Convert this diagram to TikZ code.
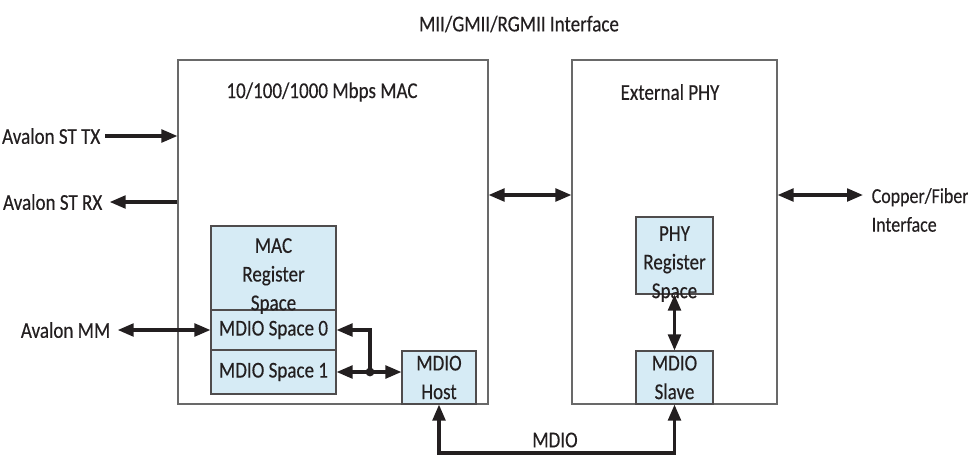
\documentclass[tikz,border=0pt]{standalone}
\usepackage{fontspec}
\setmainfont{Carlito}[FakeStretch=0.84, FakeBold=0.3]
\usepackage{tikz}
\usetikzlibrary{arrows.meta,positioning}
\definecolor{PaleBlue}{RGB}{214,235,245}
\definecolor{FrameGray}{RGB}{105,105,105}
\definecolor{InkBlack}{RGB}{35,31,32}

\begin{document}
\begin{tikzpicture}[x=0.75pt, y=-0.75pt,
  every node/.style={font=\fontsize{17}{21.5}\selectfont, text=InkBlack},
  outerbox/.style={draw=FrameGray, line width=0.8pt, inner sep=0pt},
  regbox/.style={draw=InkBlack!80, fill=PaleBlue, line width=0.8pt, inner sep=0pt, align=center},
  bus/.style={InkBlack, line width=2.4pt, -{Triangle[length=12pt,width=9.5pt]}},
  bibus/.style={InkBlack, line width=2.4pt, {Triangle[length=12pt,width=9.5pt]}-{Triangle[length=12pt,width=9.5pt]}}]
  \useasboundingbox (0,0) rectangle (968,455);

  \node[outerbox, minimum width=232.5pt, minimum height=258pt] (mac) at (333,232) {};
  \node[outerbox, minimum width=153.75pt, minimum height=258pt] (phy) at (674.5,232) {};
  \node (miilbl) at (519,24) {MII/GMII/RGMII Interface};
  \node (maclbl) at (322,92) {10/100/1000 Mbps MAC};
  \node (phylbl) at (670,92) {External PHY};

  \node[regbox, minimum width=93.75pt, minimum height=63pt] (macreg) at (273.5,268) {};
  \node[regbox, minimum width=93.75pt, minimum height=30pt] (sp0) at (273.5,330) {MDIO Space 0};
  \node[regbox, minimum width=93.75pt, minimum height=33pt] (sp1) at (273.5,372) {MDIO Space 1};
  \node[align=center] (macregtxt) at (273.5,276) {MAC\\Register\\Space};
  \node[regbox, minimum width=55.5pt, minimum height=39.75pt] (host) at (439,377.5) {MDIO\\Host};

  \node[regbox, minimum width=57.75pt, minimum height=57.75pt] (phyreg) at (674.5,255.5) {};
  \node[align=center] (phyregtxt) at (674.5,264) {PHY\\Register\\Space};
  \node[regbox, minimum width=57.75pt, minimum height=39.75pt] (slave) at (674.5,377.5) {MDIO\\Slave};

  \node[anchor=east] (tx) at (105,136) {Avalon ST TX};
  \node[anchor=east] (rx) at (107,202) {Avalon ST RX};
  \node[anchor=east] (mm) at (115,330) {Avalon MM};
  \node[align=left, anchor=west, font=\fontsize{16}{21.5}\selectfont] (cu) at (867,210) {Copper/Fiber\\Interface};
  \node (mdiolbl) at (555,440) {MDIO};

  \coordinate (midy) at (0,195);
  \coordinate (busy) at (0,453);
  \coordinate (jn) at (370,372);

  \draw[bus] (tx.east) -- (tx.east -| mac.west);
  \draw[bus] (rx.east -| mac.west) -- ([xshift=2pt]rx.east);
  \draw[bibus] ([xshift=2pt]mm.east) -- (sp0.west);
  \draw[bibus] (mac.east |- midy) -- (phy.west |- midy);
  \draw[bibus] (phy.east |- midy) -- ([xshift=-3pt]cu.west |- midy);
  \draw[bus] (jn) |- (sp0.east);
  \draw[bibus] (sp1.east) -- (host.west |- sp1.east);
  \fill[InkBlack] (jn) circle (3.3pt);
  \draw[bibus] (phyreg.south) -- (slave.north);
  \draw[bibus] (host.south) -- (host.south |- busy) -- (slave.south |- busy) -- (slave.south);
\end{tikzpicture}
\end{document}
